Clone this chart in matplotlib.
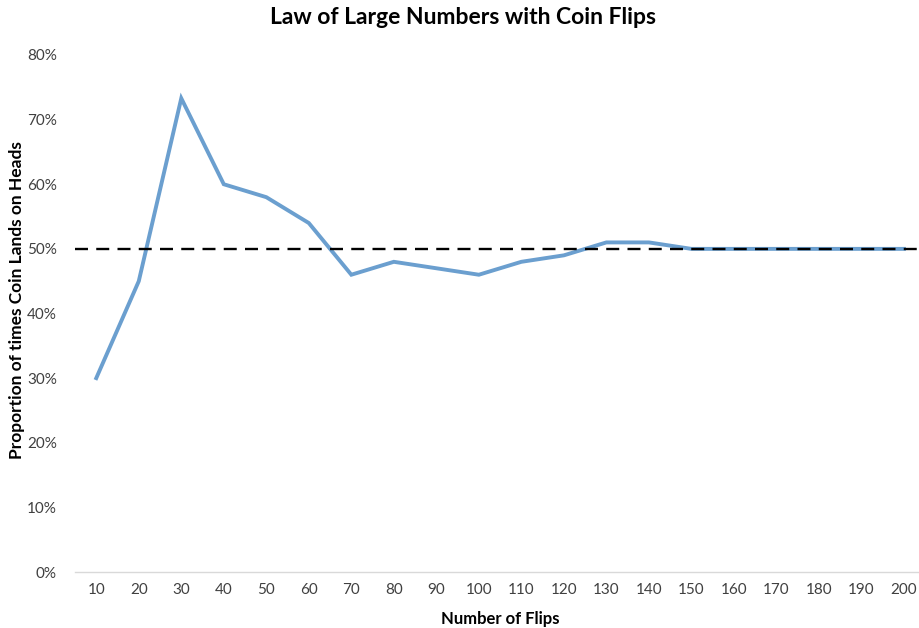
import matplotlib.pyplot as plt
from matplotlib.ticker import PercentFormatter

# Datos
flips = [10, 20, 30, 40, 50, 60, 70, 80, 90, 100,
         110, 120, 130, 140, 150, 160, 170, 180, 190, 200]
proportion = [0.30, 0.45, 0.733, 0.60, 0.58, 0.54, 0.46, 0.48, 0.47, 0.46,
              0.48, 0.49, 0.51, 0.51, 0.50, 0.50, 0.50, 0.50, 0.50, 0.50]
expected = 0.50

plt.rcParams['font.family'] = ['Lato', 'DejaVu Sans']

fig = plt.figure(figsize=(9.19, 6.28), dpi=100)
ax = fig.add_axes([75 / 919, 1 - 572 / 628, 843 / 919, 517 / 628])

x = list(range(len(flips)))
ax.plot(x, proportion, color='#6B9FCF', linewidth=2.8, solid_joinstyle='miter', zorder=2)
ax.axhline(expected, color='black', linewidth=1.7, linestyle=(0, (5.5, 3.5)), zorder=3)

ax.set_xlim(-0.5, 19.33)
ax.set_ylim(0, 0.8)
ax.set_xticks(x)
ax.set_xticklabels([str(f) for f in flips])
ax.set_yticks([i / 10 for i in range(9)])
ax.yaxis.set_major_formatter(PercentFormatter(1.0, decimals=0))

for side in ['top', 'right', 'left']:
    ax.spines[side].set_visible(False)
ax.spines['bottom'].set_color('#D9D9D9')
ax.spines['bottom'].set_linewidth(1)
ax.tick_params(axis='both', length=0, labelsize=11, colors='#404040', pad=8)
ax.tick_params(axis='y', pad=13)

fig.text(463 / 919, 1 - 18 / 628, 'Law of Large Numbers with Coin Flips',
         ha='center', va='center', fontsize=16.5, fontweight='bold')
fig.text(500 / 919, 1 - 619 / 628, 'Number of Flips',
         ha='center', va='center', fontsize=12, fontweight='bold')
fig.text(17 / 919, 1 - 300 / 628, 'Proportion of times Coin Lands on Heads',
         ha='center', va='center', rotation=90, fontsize=12.5, fontweight='bold')

plt.savefig('out.png', dpi=100)
